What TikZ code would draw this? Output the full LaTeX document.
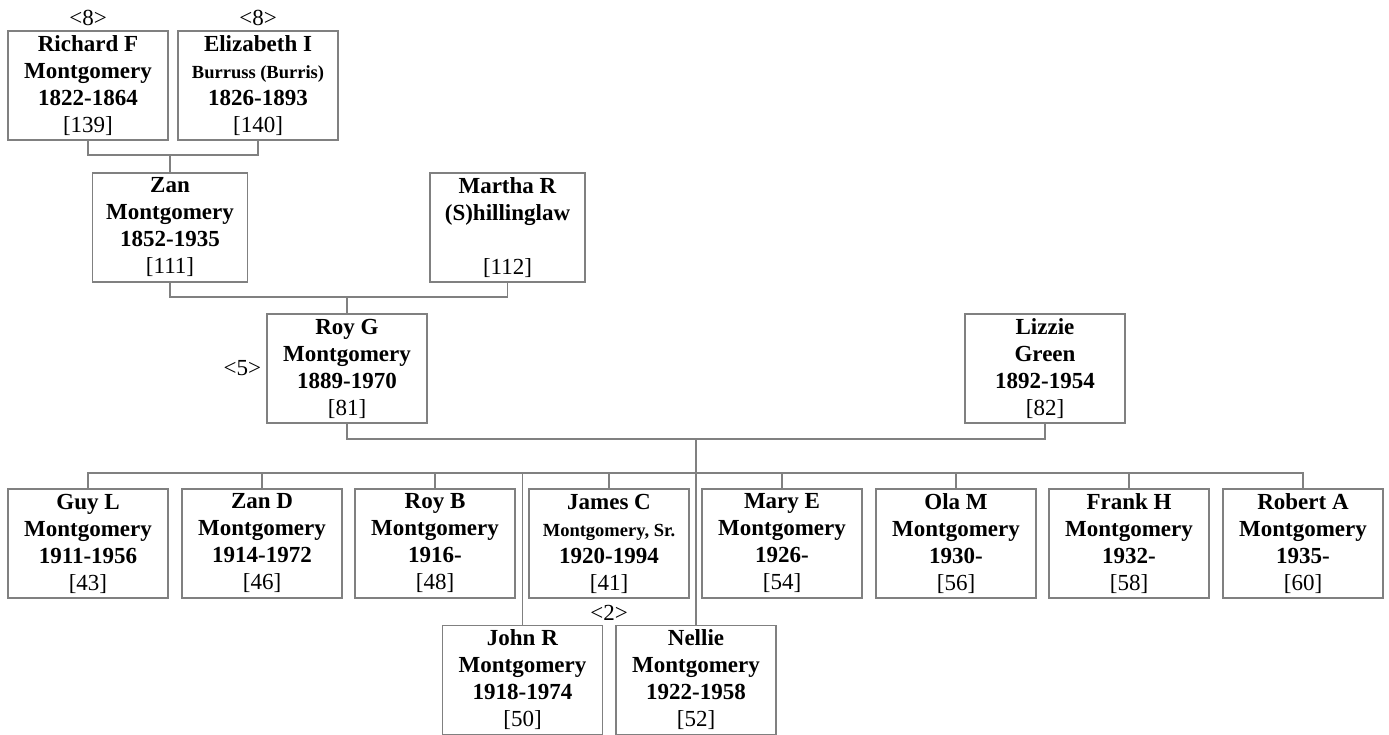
\documentclass[tikz,border=0pt]{standalone}
\usepackage{fontspec}
\setmainfont{Liberation Serif}
\usetikzlibrary{positioning}
\definecolor{linegray}{RGB}{128,128,128}
\tikzset{indiv/.style={draw=linegray, line width=1.3pt, minimum width=160pt, minimum height=109pt, inner sep=0pt, align=center, font=\fontsize{23}{27}\selectfont},
         link/.style={linegray, line width=1.3pt},
         tag/.style={inner sep=1pt, font=\fontsize{23}{27}\selectfont}}
\newcommand{\who}[4]{\textbf{#1}\\\textbf{#2}\\\textbf{#3}\\{}[#4]}
\newcommand{\smline}[1]{{\fontsize{18.5}{22}\selectfont #1}}

\begin{document}
\begin{tikzpicture}[x=1pt,y=-1pt]
   \useasboundingbox (0,0) rectangle (1389,735);

   \node[indiv] (richard)   at (  88.0, 85.5) {\who{Richard F}{Montgomery}{1822-1864}{139}};
   \node[indiv] (elizabeth) at ( 258.0, 85.5) {\who{Elizabeth I}{\smline{Burruss (Burris)}}{1826-1893}{140}};
   \node[indiv,minimum width=155pt] (zan)    at ( 170.0,227.5) {\who{Zan}{Montgomery}{1852-1935}{111}};
   \node[indiv,minimum width=155pt] (martha) at ( 507.5,227.5) {\who{Martha R}{(S)hillinglaw}{\mbox{}}{112}};
   \node[indiv] (roy)       at ( 347.0,368.5) {\who{Roy G}{Montgomery}{1889-1970}{81}};
   \node[indiv] (lizzie)    at (1045.0,368.5) {\who{Lizzie}{Green}{1892-1954}{82}};

   \node[indiv] (guy)       at (  88.0,543.5) {\who{Guy L}{Montgomery}{1911-1956}{43}};
   \node[indiv] (zand)      at ( 262.0,543.5) {\who{Zan D}{Montgomery}{1914-1972}{46}};
   \node[indiv] (royb)      at ( 435.0,543.5) {\who{Roy B}{Montgomery}{1916-}{48}};
   \node[indiv] (james)     at ( 609.0,543.5) {\who{James C}{\smline{Montgomery, Sr.}}{1920-1994}{41}};
   \node[indiv] (mary)      at ( 782.0,543.5) {\who{Mary E}{Montgomery}{1926-}{54}};
   \node[indiv] (ola)       at ( 956.0,543.5) {\who{Ola M}{Montgomery}{1930-}{56}};
   \node[indiv] (frank)     at (1129.0,543.5) {\who{Frank H}{Montgomery}{1932-}{58}};
   \node[indiv] (robert)    at (1303.0,543.5) {\who{Robert A}{Montgomery}{1935-}{60}};
   \node[indiv] (john)      at ( 522.5,680.0) {\who{John R}{Montgomery}{1918-1974}{50}};
   \node[indiv] (nellie)    at ( 696.0,680.0) {\who{Nellie}{Montgomery}{1922-1958}{52}};

   \node[tag,above=3pt of richard]   (gen8a) {<8>};
   \node[tag,above=3pt of elizabeth] (gen8b) {<8>};
   \node[tag,left=4pt of roy]        (gen5)  {<5>};
   \node[tag,below=5pt of james]     (gen2)  {<2>};

   \coordinate (j1)  at (170.0,155.0);
   \coordinate (j2)  at (347.0,297.0);
   \coordinate (j3)  at (696.0,439.0);
   \coordinate (bar) at (  0.0,473.0);

   \draw[link] (richard.south) |- (j1) -| (elizabeth.south);
   \draw[link] (j1) -- (zan.north);
   \draw[link] (zan.south) |- (j2) -| (martha.south);
   \draw[link] (j2) -- (roy.north);
   \draw[link] (roy.south) |- (j3) -| (lizzie.south);
   \draw[link] (j3) -- (nellie.north);
   \draw[link] (guy.north) |- (bar -| robert.north) -- (robert.north);
   \foreach \kid in {zand,royb,james,mary,ola,frank,john}
     \draw[link] (\kid.north) -- (\kid.north |- bar);
\end{tikzpicture}
\end{document}
